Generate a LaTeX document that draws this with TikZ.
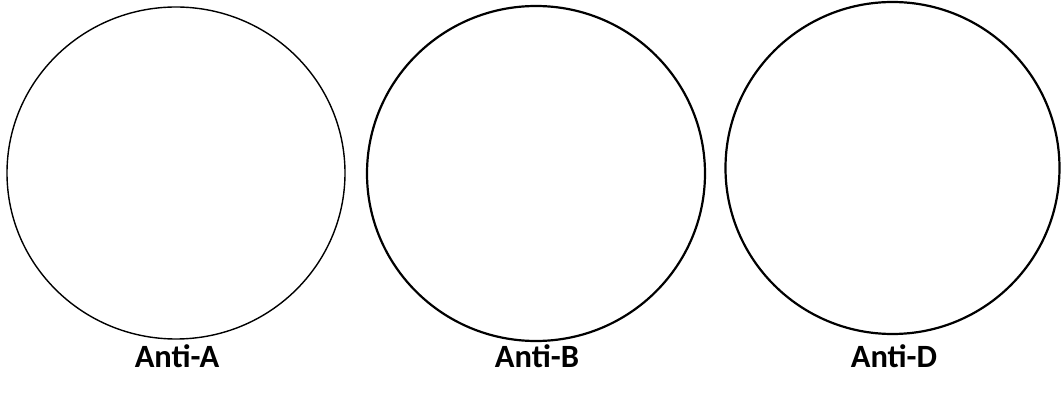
\documentclass[tikz,border=0pt]{standalone}
\usepackage{fontspec}
\setmainfont{Carlito}
\tikzset{
  ring/.style={draw=black, line width=#1},
  lbl/.style={font=\bfseries\fontsize{32.5}{38}\selectfont, anchor=base, inner sep=0pt}
}
\begin{document}
\begin{tikzpicture}[x=1pt,y=-1pt]
\useasboundingbox (0,0) rectangle (1061,395);
\draw[ring=1.4pt] (176,173) ellipse [x radius=169, y radius=166] coordinate (c1);
\draw[ring=2.2pt] (536,173.5) ellipse [x radius=169, y radius=167.5] coordinate (c2);
\draw[ring=2.2pt] (892.5,168) ellipse [x radius=167, y radius=166] coordinate (c3);
\node[lbl] (la) at (177,368) {Anti-A};
\node[lbl] (lb) at (537,368) {Anti-B};
\node[lbl] (ld) at (894,368) {Anti-D};
\end{tikzpicture}
\end{document}
